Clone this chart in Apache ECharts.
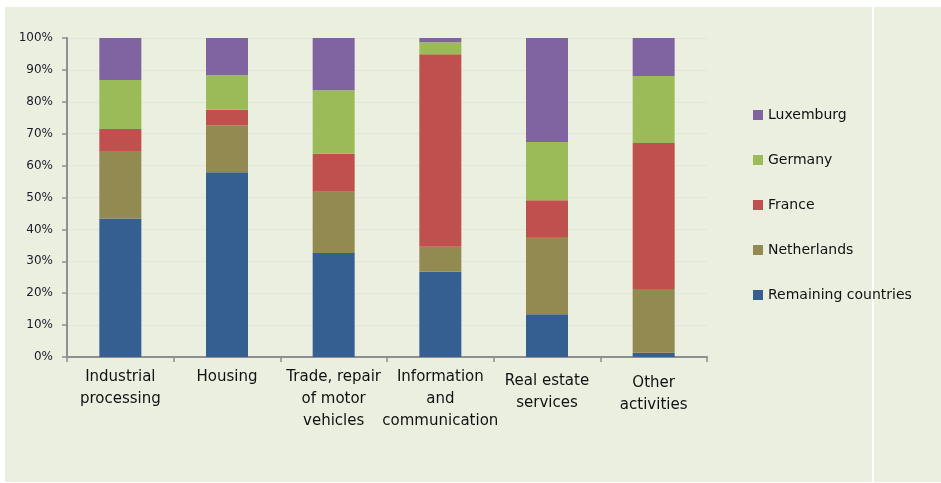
<!DOCTYPE html>
<html>
<head>
<meta charset="utf-8">
<script src="https://cdn.jsdelivr.net/npm/echarts@6/dist/echarts.min.js"></script>
<style>
  html, body { margin: 0; padding: 0; background: #ffffff; }
  #chart { width: 941px; height: 483px; }
</style>
</head>
<body>
<div id="chart"></div>
<script>
// Share of each sector by country of origin (percent, stacks sum to 100)
var categories = [
  'Industrial\nprocessing',
  'Housing',
  'Trade, repair\nof motor\nvehicles',
  'Information\nand\ncommunication',
  'Real estate\nservices',
  'Other\nactivities'
];
var remainingCountries = [43.4, 57.9, 32.6, 26.7, 13.4, 1.3];
var netherlands        = [21.2, 14.7, 19.2, 7.9, 24.2, 20.0];
var france             = [6.9, 4.9, 11.9, 60.3, 11.5, 45.8];
var germany            = [15.3, 10.8, 19.9, 3.8, 18.3, 21.0];
var luxemburg          = [13.2, 11.7, 16.4, 1.3, 32.6, 11.9];
var legendOrder = ['Luxemburg', 'Germany', 'France', 'Netherlands', 'Remaining countries'];
var yTicks = { min: 0, max: 100, step: 10 };

// Two-line labels on the right sit a little lower
var labelOffsets = [0, 0, 0, 0, 4, 6];

var chart = echarts.init(document.getElementById('chart'), null, { renderer: 'canvas' });

function bar(name, values, color) {
  return {
    name: name,
    type: 'bar',
    stack: 'share',
    barWidth: 42,
    data: values,
    itemStyle: { color: color },
    emphasis: { disabled: true }
  };
}

chart.setOption({
  backgroundColor: '#ffffff',
  animation: false,
  textStyle: { fontFamily: 'DejaVu Sans' },
  graphic: [
    { type: 'rect', z: -10, silent: true,
      shape: { x: 5, y: 7, width: 867, height: 475 },
      style: { fill: '#ebefe0' } },
    { type: 'rect', z: -10, silent: true,
      shape: { x: 874, y: 7, width: 67, height: 475 },
      style: { fill: '#ebefe0' } }
  ],
  grid: { left: 67, right: 234, top: 38, bottom: 126, containLabel: false },
  legend: {
    orient: 'vertical',
    left: 748,
    top: 103,
    itemWidth: 10,
    itemHeight: 10,
    itemGap: 31,
    icon: 'rect',
    data: legendOrder,
    selectedMode: false,
    textStyle: { fontFamily: 'DejaVu Sans', fontSize: 14, color: '#111111', padding: [0, 0, 0, 0] }
  },
  xAxis: {
    type: 'category',
    data: categories.map(function (c, i) {
      return { value: c, textStyle: { padding: [labelOffsets[i], 0, 0, 0] } };
    }),
    axisLine: { lineStyle: { color: '#8f8f8f', width: 2 } },
    axisTick: { show: true, length: 5, lineStyle: { color: '#8f8f8f', width: 1.5 } },
    axisLabel: {
      interval: 0,
      margin: 9,
      color: '#111111',
      fontFamily: 'DejaVu Sans',
      fontSize: 15,
      lineHeight: 22
    }
  },
  yAxis: {
    type: 'value',
    min: yTicks.min,
    max: yTicks.max,
    interval: yTicks.step,
    axisLine: { show: true, lineStyle: { color: '#8f8f8f', width: 2 } },
    axisTick: { show: true, length: 5, lineStyle: { color: '#8f8f8f', width: 1.5 } },
    splitLine: { show: true, lineStyle: { color: 'rgba(0,0,0,0.035)', width: 1 } },
    axisLabel: {
      formatter: '{value}%',
      margin: 14,
      color: '#1a1a2a',
      fontFamily: 'DejaVu Sans',
      fontSize: 12
    }
  },
  series: [
    bar('Remaining countries', remainingCountries, '#365f91'),
    bar('Netherlands', netherlands, '#938a52'),
    bar('France', france, '#c0504d'),
    bar('Germany', germany, '#9bbb59'),
    bar('Luxemburg', luxemburg, '#8064a2')
  ]
});
</script>
</body>
</html>
